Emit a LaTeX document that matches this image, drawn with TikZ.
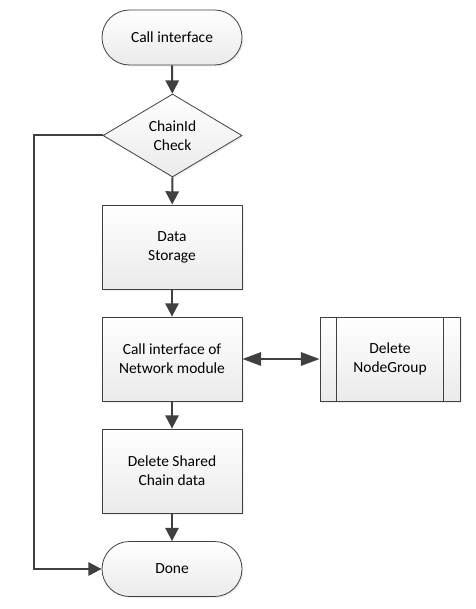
\documentclass[tikz,border=0pt]{standalone}
\usepackage{fontspec}
\setmainfont{Carlito}
\usetikzlibrary{shapes.geometric,shadows,arrows.meta}
\definecolor{edge}{HTML}{404040}
\begin{document}
\begin{tikzpicture}[x=0.75pt, y=-0.75pt,
		box/.style={draw=edge, line width=0.6pt, top color=white, bottom color=black!8,
			drop shadow={shadow xshift=1.2pt, shadow yshift=-1.2pt, fill=black!12},
			align=center, font=\fontsize{11.6}{14.3}\selectfont, inner sep=0pt},
		proc/.style={box, rectangle, minimum width=105pt, minimum height=63pt},
		term/.style={box, rectangle, rounded corners=20.6pt, minimum width=105pt, minimum height=41.25pt},
		test/.style={box, diamond, aspect=1.67, minimum width=104.25pt, minimum height=62.25pt},
		flow/.style={draw=edge, line width=1.5pt, -{Triangle[length=10pt, width=10pt]}},
		wide/.style={{Triangle[length=14pt, width=10pt]}-{Triangle[length=14pt, width=10pt]}},
		]
		\useasboundingbox (0, 0) rectangle (475, 609);
		\node[term] (start) at (172, 37.5) {Call interface};
		\node[test] (check) at (172.5, 135.5) {ChainId\\Check};
		\node[proc] (store) at (172, 247) {Data\\Storage};
		\node[proc] (net) at (172, 359) {Call interface of\\Network module};
		\node[proc] (grp) at (390, 359) {Delete\\NodeGroup};
		\node[proc] (shared) at (172, 471) {Delete Shared\\Chain data};
		\node[term] (done) at (172, 569) {Done};
		\draw[edge, line width=0.6pt] ([xshift=12.75pt]grp.north west) -- ([xshift=12.75pt]grp.south west);
		\draw[edge, line width=0.6pt] ([xshift=-12.75pt]grp.north east) -- ([xshift=-12.75pt]grp.south east);
		\coordinate (back) at (34, 135.5);
		\draw[flow] (start) -- (check);
		\draw[flow] (check) -- (store);
		\draw[flow] (store) -- (net);
		\draw[flow] (net) -- (shared);
		\draw[flow] (shared) -- (done);
		\draw[flow, wide] (net) -- (grp);
		\draw[flow] (check.west) -- (back) |- (done.west);
	\end{tikzpicture}
\end{document}
